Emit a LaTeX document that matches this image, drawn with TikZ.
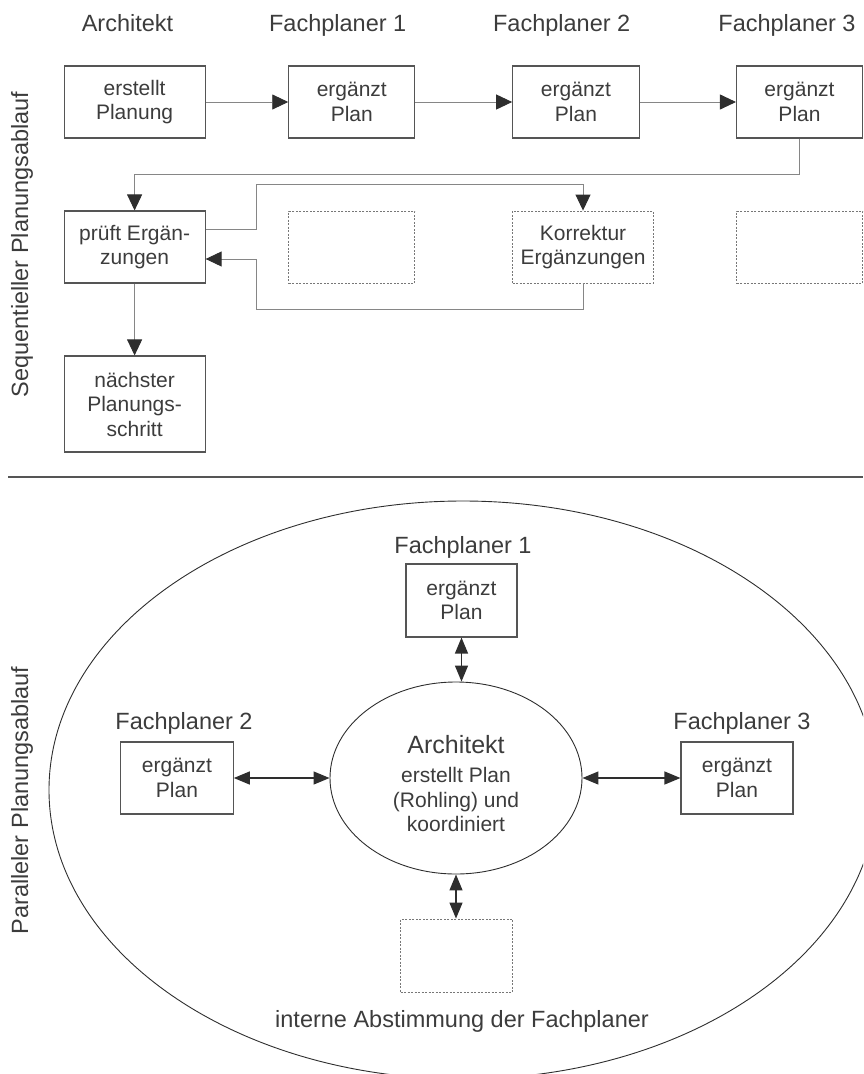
\documentclass[tikz,border=0pt]{standalone}
\usepackage{fontspec}
\setmainfont{Liberation Sans}
\usetikzlibrary{arrows.meta,shapes.geometric}

\definecolor{ink}{HTML}{3C3C3C}
\definecolor{frame}{HTML}{555555}
\definecolor{wire}{HTML}{868686}
\definecolor{dotline}{HTML}{777777}
\definecolor{tip}{HTML}{2E2E2E}

\begin{document}
\begin{tikzpicture}[x=1pt,y=-1pt,
  every node/.style={text=ink, inner sep=0pt},
  txt/.style={font=\fontsize{21}{24.5}\selectfont, align=center},
  head/.style={font=\fontsize{23.5}{28}\selectfont, anchor=base},
  side/.style={font=\fontsize{23.5}{28}\selectfont, rotate=90},
  stepbox/.style={txt, rectangle, draw=frame, line width=1.1pt},
  ghost/.style={txt, rectangle, draw=dotline, line width=0.9pt, dash pattern=on 2pt off 1.5pt},
  wire/.style={draw=wire, line width=0.9pt},
  flow/.style={wire, -{Triangle[length=16pt,width=15pt,color=tip]}},
  link/.style={draw=tip, line width=1.3pt,
    {Triangle[length=16pt,width=13pt]}-{Triangle[length=16pt,width=13pt]}},
  oval/.style={draw=tip, line width=0.9pt},
]
\useasboundingbox (0,0) rectangle (863,1074);

% ---------- sequential planning ----------
\node[side] (seqlabel) at (22,244.5) {Sequentieller Planungsablauf};

\node[head] (hA)  at (127.5,31.5) {Architekt};
\node[head] (hF1) at (337.7,31.5) {Fachplaner 1};
\node[head] (hF2) at (561.7,31.5) {Fachplaner 2};
\node[head] (hF3) at (787,31.5)   {Fachplaner 3};

\node[stepbox, minimum width=141pt, minimum height=72pt] (arch1) at (134.6,102) {erstellt\\Planung};
\node[stepbox, minimum width=126pt, minimum height=72pt] (fa)    at (351.8,102) {ergänzt\\Plan};
\node[stepbox, minimum width=126.6pt, minimum height=72pt] (fb)  at (576,102)   {ergänzt\\Plan};
\node[stepbox, minimum width=126pt, minimum height=72pt] (fc)    at (799.5,102) {ergänzt\\Plan};

\node[stepbox, minimum width=141pt, minimum height=72pt] (pruef) at (134.6,247) {prüft Ergän-\\zungen};
\node[ghost, minimum width=126pt, minimum height=72pt]   (ga)    at (351.8,247) {};
\node[ghost, minimum width=140.6pt, minimum height=72pt] (korr)  at (583,247)   {Korrektur\\Ergänzungen};
\node[ghost, minimum width=126pt, minimum height=72pt]   (gc)    at (799.5,247) {};

\node[stepbox, minimum width=141pt, minimum height=96pt] (next) at (134.6,404) {nächster\\Planungs-\\schritt};

\draw[flow] (arch1) -- (fa);
\draw[flow] (fa) -- (fb);
\draw[flow] (fb) -- (fc);
\draw[flow] (fc.south) -- ++(0,36) -| (pruef.north);

\coordinate (pout) at ([yshift=18pt]pruef.east);
\coordinate (pin)  at ([yshift=-12pt]pruef.east);
\coordinate (up)   at (256,184);
\coordinate (down) at (256,309);
\draw[flow] (pout) -| (up) -| (korr.north);
\draw[flow] (korr.south) |- (down) |- (pin);
\draw[flow] (pruef) -- (next);

% divider
\draw[draw=frame, line width=1.3pt] (8,477) -- (863,477);

% ---------- parallel planning ----------
\node[side] (parlabel) at (22,800.5) {Paralleler Planungsablauf};

\begin{scope}
  \clip (0,0) rectangle (863,1074);
  \draw[oval] (463,790) ellipse [x radius=414, y radius=289];
\end{scope}

\node[head] (hP1) at (463,553) {Fachplaner 1};
\node[head] (hP2) at (184,729) {Fachplaner 2};
\node[head] (hP3) at (742,729) {Fachplaner 3};

\node[stepbox, minimum width=111pt, minimum height=73pt]   (p1) at (461.5,600.5) {ergänzt\\Plan};
\node[stepbox, minimum width=112.5pt, minimum height=72pt] (p2) at (177,778)     {ergänzt\\Plan};
\node[stepbox, minimum width=112pt, minimum height=72pt]   (p3) at (737,778)     {ergänzt\\Plan};

\node[ellipse, oval, txt, minimum width=252pt, minimum height=192pt] (core) at (456,778)
  {\rule{0pt}{30pt}{\fontsize{25}{29}\selectfont Architekt}\\[4.5pt]erstellt Plan\\(Rohling) und\\koordiniert};

\node[ghost, minimum width=112pt, minimum height=73pt] (team) at (456.5,955.5) {};
\node[head] (teamlabel) at (462,1027) {interne Abstimmung der Fachplaner};

\draw[link] (p1.south) -- (p1.south |- core.north);
\draw[link] (p2) -- (core);
\draw[link] (core) -- (p3);
\draw[link] (core.south) -- (core.south |- team.north);

\end{tikzpicture}
\end{document}
